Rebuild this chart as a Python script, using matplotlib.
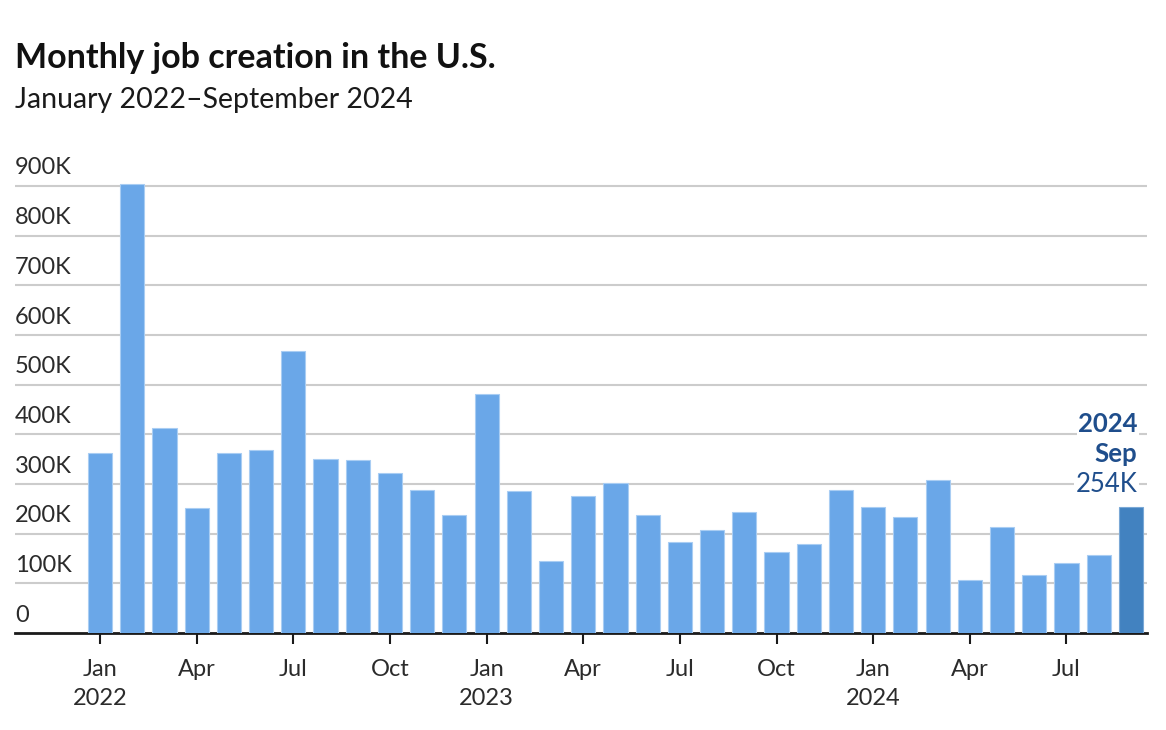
import numpy as np
import matplotlib.pyplot as plt
from matplotlib.transforms import blended_transform_factory

plt.rcParams['font.family'] = ['Lato', 'DejaVu Sans']

# monthly jobs added, Jan 2022 - Sep 2024 (thousands)
months = ["Jan", "Feb", "Mar", "Apr", "May", "Jun",
          "Jul", "Aug", "Sep", "Oct", "Nov", "Dec"]
years = [2022, 2023, 2024]
jobs = [362, 903, 412, 251, 362, 368, 567, 350, 348, 322, 288, 237,
        481, 286, 145, 276, 302, 237, 183, 207, 243, 163, 179, 288,
        254, 233, 308, 107, 213, 117, 141, 157, 254]
y_ticks = [0, 100, 200, 300, 400, 500, 600, 700, 800, 900]

n = len(jobs)
x = np.arange(n)
labels = [months[i % 12] for i in range(n)]

fig = plt.figure(figsize=(11.66, 7.3), dpi=100)
ax = fig.add_axes([15/1166, 97/730, 1132/1166, 457/730])

colors = ["#6aa7e8"] * (n - 1) + ["#4282c0"]
edges = ["#a9cdf3"] * (n - 1) + ["#7aa8d6"]
ax.bar(x, jobs, width=0.75, color=colors, edgecolor=edges, linewidth=0.8, zorder=3)

ax.set_xlim(-2.64, n - 0.5)
ax.set_ylim(0, 920)

# gridlines + labels sitting on them
tr = blended_transform_factory(ax.transAxes, ax.transData)
for v in y_ticks:
    if v > 0:
        ax.axhline(v, color="#cccccc", lw=1.5, zorder=1)
    lab = "0" if v == 0 else f"{v}K"
    ax.text(0.0, v + 15, lab, transform=tr, ha="left", va="bottom",
            fontsize=17, color="#2b2b2b")

for s in ["top", "right", "left"]:
    ax.spines[s].set_visible(False)
ax.spines["bottom"].set_linewidth(2)
ax.spines["bottom"].set_color("#1a1a1a")
ax.set_yticks([])

# x ticks every quarter
tick_pos = [i for i in range(n) if i % 3 == 0]
tick_lab = []
for i in tick_pos:
    if i % 12 == 0:
        tick_lab.append(f"{labels[i]}\n{years[i // 12]}")
    else:
        tick_lab.append(labels[i])
ax.set_xticks(tick_pos)
ax.set_xticklabels(tick_lab, fontsize=17, color="#2b2b2b", linespacing=1.45)
ax.tick_params(axis="x", length=8, width=1.5, color="#1a1a1a", pad=11)

# highlight last bar
last = n - 1
box = dict(facecolor="white", edgecolor="none", pad=1)
ax.text(last + 0.2, jobs[last] + 20, f"{jobs[last]}K", ha="right", va="bottom",
        fontsize=18.5, color="#1f4e8c", bbox=box, zorder=4)
ax.text(last + 0.2, jobs[last] + 82, months[last % 12], ha="right", va="bottom",
        fontsize=18.5, color="#1f4e8c", fontweight="bold", bbox=box, zorder=4)
ax.text(last + 0.2, jobs[last] + 143, str(years[-1]), ha="right", va="bottom",
        fontsize=18.5, color="#1f4e8c", fontweight="bold", bbox=box, zorder=4)

fig.text(15/1166, 1 - 58/730, "Monthly job creation in the U.S.", fontsize=24.5,
         fontweight="bold", color="#111111", ha="left", va="center")
fig.text(15/1166, 1 - 100/730, "January 2022\u2013September 2024", fontsize=20.5,
         color="#1a1a1a", ha="left", va="center")

fig.savefig("out.png", dpi=100)
